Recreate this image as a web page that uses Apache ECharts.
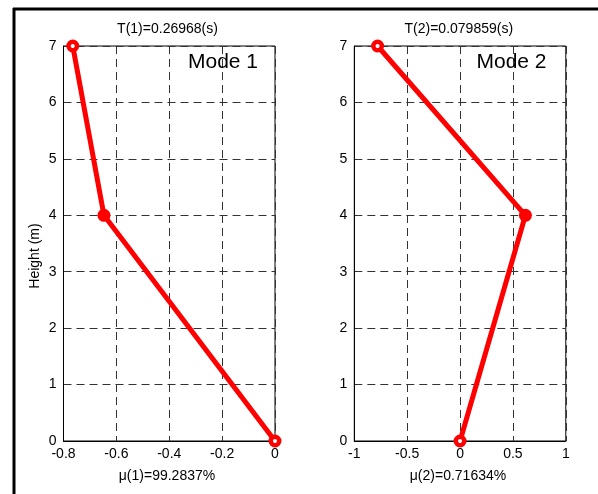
<!DOCTYPE html>
<html><head><meta charset="utf-8">
<script src="https://cdn.jsdelivr.net/npm/echarts@6/dist/echarts.min.js"></script>
<style>html,body{margin:0;padding:0;background:#fff}#c{width:598px;height:494px}</style>
</head><body><div id="c"></div>
<script>
const heights = [0, 4, 7];
const mode1 = [0, -0.647, -0.765];
const mode2 = [0, 0.618, -0.78];
const titles = ['T(1)=0.26968(s)', 'T(2)=0.079859(s)'];
const xlabels = ['\u03bc(1)=99.2837%', '\u03bc(2)=0.71634%'];
const modeNames = ['Mode 1', 'Mode 2'];
const yLabel = 'Height (m)';

const FONT = 'Arial, "Liberation Sans", Helvetica, sans-serif';
const chart = echarts.init(document.getElementById('c'));

function pts(xs){
  return xs.map((x,i)=>{
    const end = (i===0 || i===xs.length-1);
    return {
      value:[x, heights[i]],
      symbolSize: end ? 8.5 : 13,
      itemStyle: end ? {color:'#fff', borderColor:'#ff0000', borderWidth:4.5} : {color:'#ff0000', borderColor:'#ff0000', borderWidth:0}
    };
  });
}
const gridLine = {show:true, lineStyle:{color:'#333', type:[8,5], width:1}};
const axisLineS = {show:true, onZero:false, lineStyle:{color:'#000', width:1}};
const lbl = {color:'#000', fontSize:14, fontFamily:FONT};

function xAx(idx, min, max, interval){
  return {type:'value', gridIndex:idx, min, max, interval,
    axisLine:axisLineS, axisTick:{show:false}, splitLine:gridLine,
    axisLabel:Object.assign({margin:6, hideOverlap:false}, lbl)};
}
function yAx(idx){
  return {type:'value', gridIndex:idx, min:0, max:7, interval:1,
    axisLine:axisLineS, axisTick:{show:false}, splitLine:gridLine,
    axisLabel:Object.assign({margin:7}, lbl)};
}
function txt(x, y, s, size, align, rot){
  return {type:'text', x, y, rotation: rot||0, z:100,
    style:{text:s, fill:'#000', font: size+'px '+FONT, textAlign:align||'center', textVerticalAlign:'middle'}};
}

chart.setOption({
  animation:false,
  backgroundColor:'#fff',
  grid:[
    {left:63.5, top:46, width:211.5, height:395, show:true, borderColor:'#000', borderWidth:1, backgroundColor:'transparent'},
    {left:354.3, top:46, width:211.5, height:395, show:true, borderColor:'#000', borderWidth:1, backgroundColor:'transparent'}
  ],
  xAxis:[xAx(0,-0.8,0,0.2), xAx(1,-1,1,0.5)],
  yAxis:[yAx(0), yAx(1)],
  series:[
    {type:'line', xAxisIndex:0, yAxisIndex:0, data:pts(mode1), lineStyle:{color:'#ff0000', width:5}, symbol:'circle', clip:false, z:5},
    {type:'line', xAxisIndex:1, yAxisIndex:1, data:pts(mode2), lineStyle:{color:'#ff0000', width:5}, symbol:'circle', clip:false, z:5}
  ],
  graphic:[
    {type:'line', shape:{x1:13, y1:9, x2:598, y2:9}, style:{stroke:'#000', lineWidth:3}},
    {type:'line', shape:{x1:14, y1:8, x2:14, y2:494}, style:{stroke:'#000', lineWidth:3}},
    txt(167.5, 29, titles[0], 14),
    txt(458.8, 29, titles[1], 14),
    txt(167, 476, xlabels[0], 14),
    txt(458, 476, xlabels[1], 14),
    txt(188, 62.5, modeNames[0], 21, 'left'),
    txt(476.5, 62.5, modeNames[1], 21, 'left'),
    txt(35, 256, yLabel, 14, 'center', Math.PI/2)
  ]
});
</script></body></html>
